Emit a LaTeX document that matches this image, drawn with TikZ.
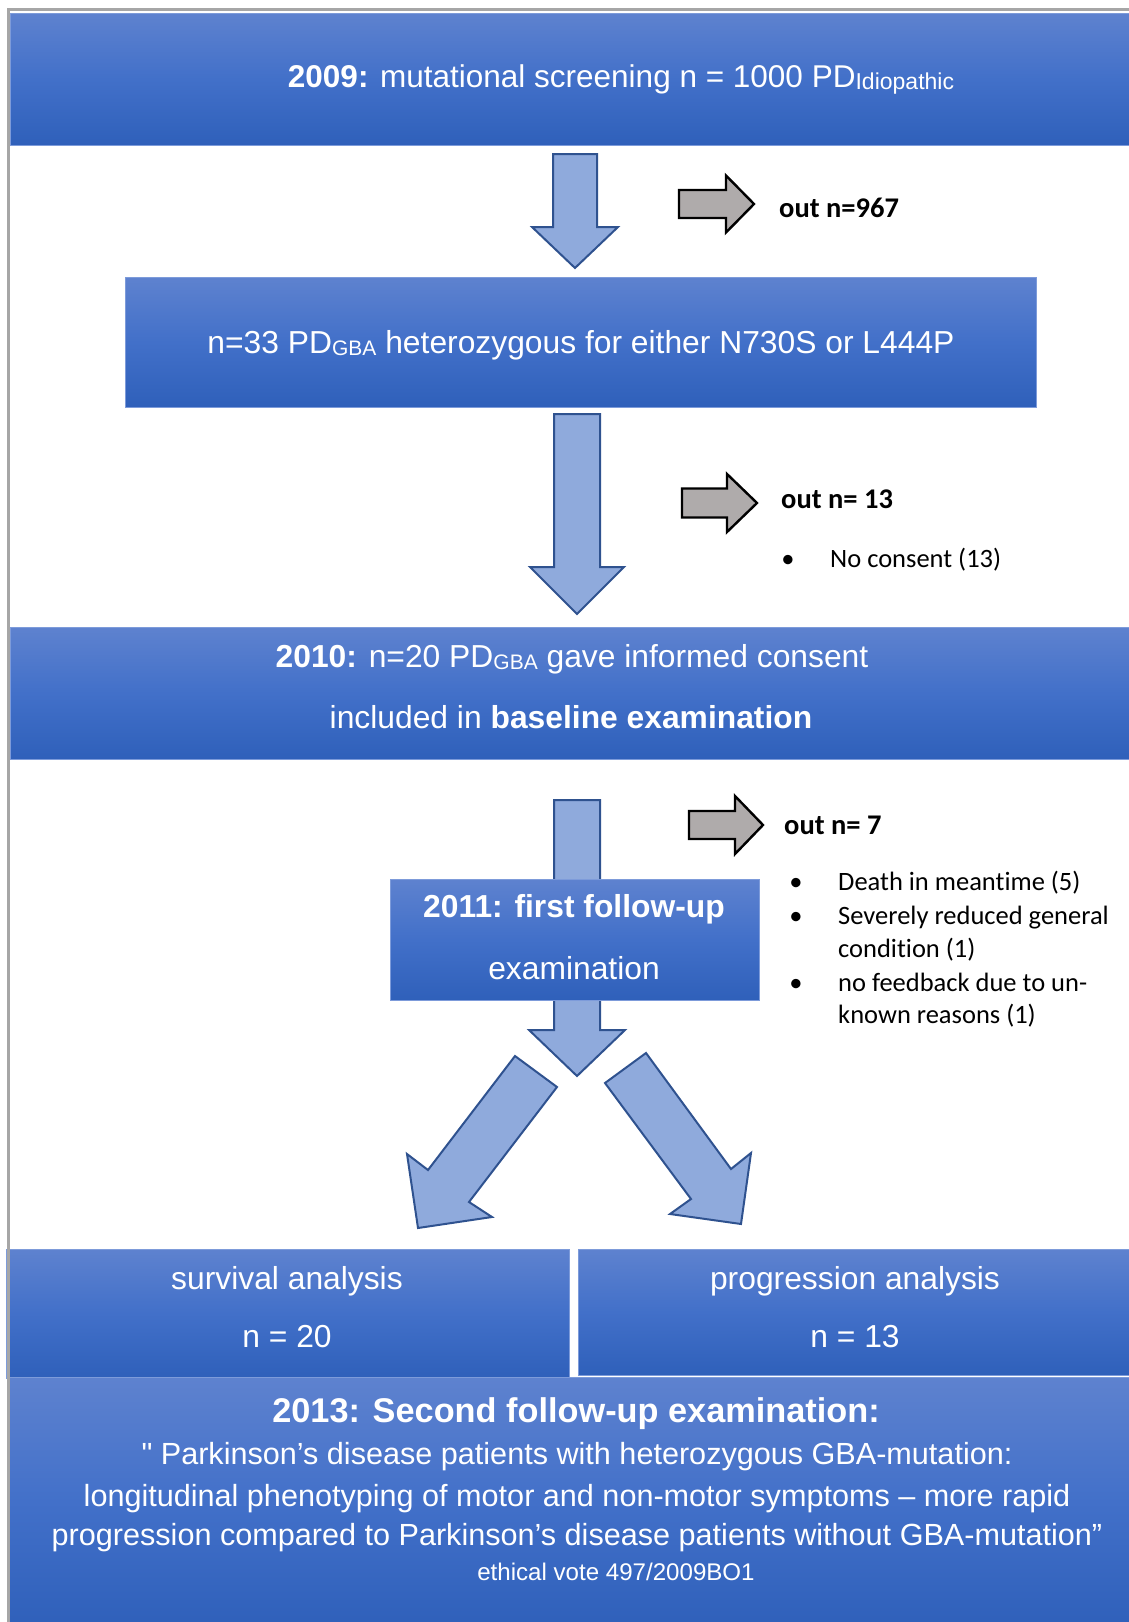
\documentclass[tikz,border=0pt]{standalone}
\usepackage{fontspec}
\setmainfont{Liberation Sans}
\newfontfamily\quotefont{Liberation Sans}
\newfontfamily\calibri{Carlito}[Ligatures=NoCommon]
\usetikzlibrary{positioning}

\definecolor{boxtop}{RGB}{94,130,207}
\definecolor{boxmid}{RGB}{66,112,201}
\definecolor{boxbot}{RGB}{47,96,186}
\definecolor{boxedge}{RGB}{125,155,218}
\definecolor{arrowfill}{RGB}{143,170,220}
\definecolor{arrowline}{RGB}{47,82,143}
\definecolor{greyfill}{RGB}{175,171,171}
\definecolor{frameline}{RGB}{166,166,166}

\newcommand{\txtsize}[1]{\fontsize{#1}{#1}\selectfont}
\newcommand{\lowsub}[2]{\raisebox{-0.08em}{\fontsize{#1}{#1}\selectfont #2}}

\begin{document}
\begin{tikzpicture}[x=1pt, y=-1pt,
    bluebox/.style={rectangle, inner sep=0pt, outer sep=0pt, anchor=north west,
      top color=boxtop, bottom color=boxbot, middle color=boxmid,
      draw=boxedge, line width=0.8pt},
    boxtext/.style={inner sep=0pt, anchor=base, text=white, font=\txtsize{31.8}},
    outtext/.style={inner sep=0pt, anchor=base west, font=\calibri\bfseries\txtsize{28.5}},
    listtext/.style={inner sep=0pt, anchor=base west, font=\calibri\txtsize{26.5}},
    bulletmark/.style={inner sep=0pt, anchor=base, font=\calibri\txtsize{26.5}},
    bluearrow/.style={fill=arrowfill, draw=arrowline, line width=2pt},
    greyarrow/.style={fill=greyfill, draw=black, line width=2.4pt}]
  \useasboundingbox (0,0) rectangle (1129,1622);

  % block arrows downwards
  \foreach \cx/\ytop/\yhead/\ytip/\hs/\hh in {575/154/227/268/22/43, 577/414/567/614/23/47, 577/800/1030/1076/23/48}
    \draw[bluearrow] (\cx-\hs,\ytop) -- (\cx+\hs,\ytop) -- (\cx+\hs,\yhead) -- (\cx+\hh,\yhead)
      -- (\cx,\ytip) -- (\cx-\hh,\yhead) -- (\cx-\hs,\yhead) -- cycle;

  % arrows for the patients that drop out
  \foreach \cy/\hs/\hh/\xl/\xh/\xt in {204/14/28.5/679/726/754, 503/14.5/29/682/727/757, 825/14/29/689/735/763}
    \draw[greyarrow] (\xl,\cy-\hs) -- (\xh,\cy-\hs) -- (\xh,\cy-\hh) -- (\xt,\cy)
      -- (\xh,\cy+\hh) -- (\xh,\cy+\hs) -- (\xl,\cy+\hs) -- cycle;

  % split into the two analyses
  \draw[bluearrow] (515,1056) -- (557,1087) -- (469,1202) -- (492,1217) -- (418,1228) -- (407,1154) -- (428,1170) -- cycle;
  \draw[bluearrow] (646,1053) -- (731,1169) -- (751,1153) -- (741,1224) -- (670,1214) -- (691,1199) -- (605,1083) -- cycle;

  % boxes
  \node[bluebox, minimum width=1119pt, minimum height=132pt] (screening) at (10,13) {};
  \node[bluebox, minimum width=911pt, minimum height=130pt] (carriers) at (125,277) {};
  \node[bluebox, minimum width=1119pt, minimum height=132pt] (baseline) at (10,627) {};
  \node[bluebox, minimum width=369pt, minimum height=121pt] (followup) at (390,879) {};
  \node[bluebox, minimum width=563pt, minimum height=129pt] (survival) at (6,1249) {};
  \node[bluebox, minimum width=551pt, minimum height=126pt] (progression) at (578,1249) {};
  \node[bluebox, minimum width=1120pt, minimum height=250pt] (second) at (9,1377) {};

  % box texts
  \node[boxtext, font=\txtsize{31.5}] (screeningtext) at (621,87) {\textbf{2009:} mutational screening n = 1000 PD\lowsub{23}{Idiopathic}};
  \node[boxtext] (carrierstext) at (581,353) {n=33 PD\lowsub{21}{GBA} heterozygous for either N730S or L444P};
  \node[boxtext] (baselinetext) at (572,667) {\textbf{2010:} n=20 PD\lowsub{21}{GBA} gave informed consent};
  \node[boxtext] (baselinetextb) at (571,728) {included in \textbf{baseline examination}};
  \node[boxtext] (followuptext) at (574,917) {\textbf{2011: first follow-up}};
  \node[boxtext] (followuptextb) at (574,979) {examination};
  \node[boxtext] (survivaltext) at (287,1289) {survival analysis};
  \node[boxtext] (survivaln) at (287,1347) {n = 20};
  \node[boxtext] (progressiontext) at (855,1289) {progression analysis};
  \node[boxtext] (progressionn) at (855,1347) {n = 13};
  \node[boxtext, font=\bfseries\txtsize{34.3}] (secondtext) at (576,1422) {2013: Second follow-up examination:};
  \node[boxtext, font=\txtsize{30.6}] (title1) at (577,1464) {{\quotefont "} Parkinson’s disease patients with heterozygous GBA-mutation:};
  \node[boxtext, font=\txtsize{30.6}] (title2) at (577,1506) {longitudinal phenotyping of motor and non-motor symptoms – more rapid};
  \node[boxtext, font=\txtsize{30.6}] (title3) at (577,1545) {progression compared to Parkinson’s disease patients without GBA-mutation”};
  \node[boxtext, font=\txtsize{24.1}] (vote) at (616,1580) {ethical vote 497/2009BO1};

  % drop out texts
  \node[outtext] (out1) at (779,217) {out n=967};
  \node[outtext] (out2) at (781,508) {out n= 13};
  \node[bulletmark] at (788,567) {•};
  \node[listtext] (reason1) at (830,567) {No consent (13)};
  \node[outtext] (out3) at (784,834) {out n= 7};
  \foreach \y in {890, 924, 991}
    \node[bulletmark] at (796,\y) {•};
  \node[listtext] (death) at (838,890) {Death in meantime (5)};
  \node[listtext] (reduced) at (838,924) {Severely reduced general};
  \node[listtext] (reducedb) at (838,957) {condition (1)};
  \node[listtext] (feedback) at (838,991) {no feedback due to un-};
  \node[listtext] (feedbackb) at (838,1023) {known reasons (1)};

  % frame
  \draw[frameline, line width=3pt] (8.5,1622) -- (8.5,9) -- (1129,9);
\end{tikzpicture}
\end{document}
